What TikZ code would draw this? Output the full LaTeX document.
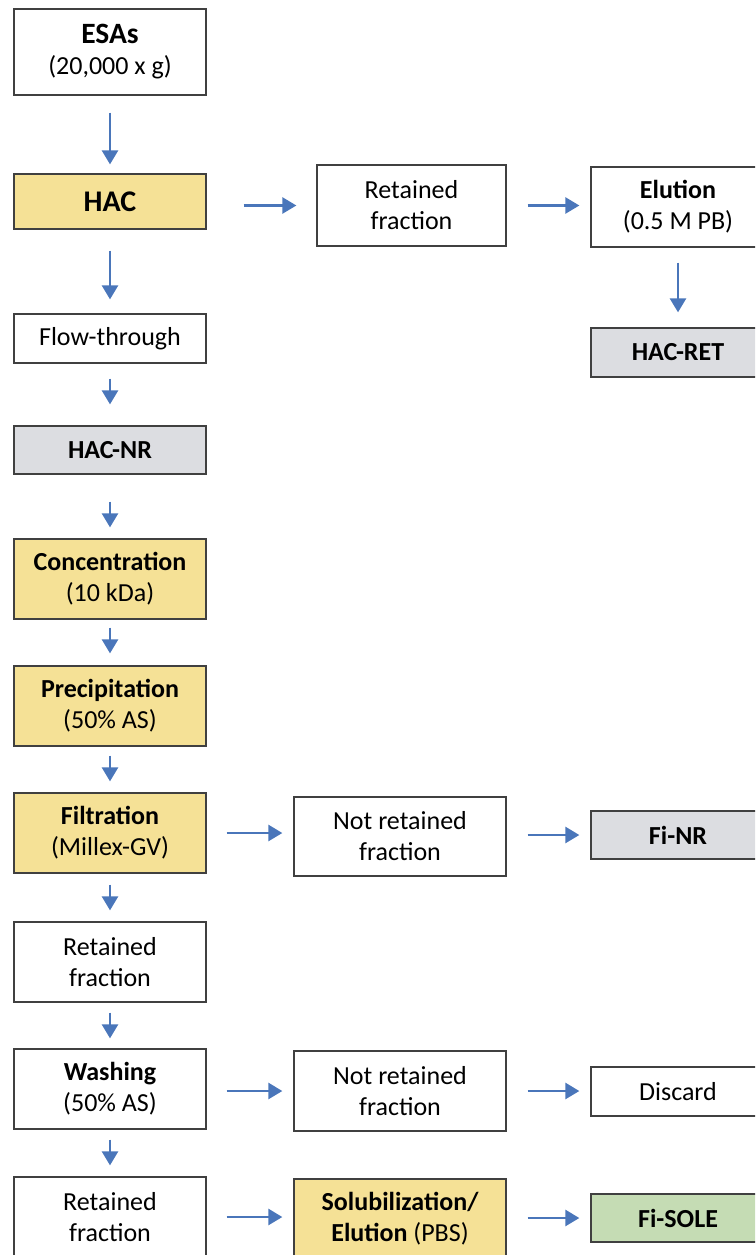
\documentclass[tikz,border=0pt]{standalone}
\usepackage{fontspec}
\setmainfont{Carlito}
\usetikzlibrary{arrows.meta}
\definecolor{boxline}{HTML}{404040}
\definecolor{yel}{HTML}{F5E196}
\definecolor{gry}{HTML}{DCDDE1}
\definecolor{grn}{HTML}{C5DCB4}
\definecolor{arrblue}{HTML}{4A76BA}
\tikzset{
  box/.style={draw=boxline, line width=1.3pt, fill=white, align=center, inner sep=0pt,
    font=\fontsize{26}{31}\selectfont},
  yellowbox/.style={box, fill=yel},
  graybox/.style={box, fill=gry},
  greenbox/.style={box, fill=grn},
  arr/.style={draw=arrblue, line width=2.6pt, -{Triangle[length=14pt,width=16pt]}}
}
\begin{document}
\begin{tikzpicture}[x=1pt,y=-1pt]
\useasboundingbox (0,0) rectangle (755,1255);
\clip (0,0) rectangle (755,1255);
% left column
\node[box, minimum width=192pt, minimum height=86pt] (esas) at (110,52)
  {\fontsize{29.5}{33}\selectfont\bfseries ESAs\\\fontsize{26}{31}\selectfont\mdseries(20,000 x g)};
\node[yellowbox, minimum width=192pt, minimum height=55pt] (hac) at (110,201.5)
  {\fontsize{30}{34}\selectfont\bfseries HAC};
\node[box, minimum width=192pt, minimum height=49pt] (flow) at (110,338.5) {Flow-through};
\node[graybox, minimum width=192pt, minimum height=48pt] (hacnr) at (110,450) {\bfseries HAC-NR};
\node[yellowbox, minimum width=192pt, minimum height=80pt] (conc) at (110,579)
  {\bfseries Concentration\\(10 kDa)};
\node[yellowbox, minimum width=192pt, minimum height=80pt] (prec) at (110,706)
  {\bfseries Precipitation\\(50\% AS)};
\node[yellowbox, minimum width=192pt, minimum height=80pt] (filt) at (110,833)
  {\bfseries Filtration\\(Millex-GV)};
\node[box, minimum width=192pt, minimum height=80pt] (ret2) at (110,962)
  {Retained\\fraction};
\node[box, minimum width=192pt, minimum height=80pt] (wash) at (110,1089)
  {\bfseries Washing\\(50\% AS)};
\node[box, minimum width=192pt, minimum height=80pt] (ret3) at (110,1217)
  {Retained\\fraction};
% middle column
\node[box, minimum width=189pt, minimum height=81pt] (ret1) at (411.5,205.5)
  {Retained\\fraction};
\node[box, minimum width=212pt, minimum height=79pt] (nr1) at (400,836.5)
  {Not retained\\fraction};
\node[box, minimum width=212pt, minimum height=80pt] (nr2) at (400,1091)
  {Not retained\\fraction};
\node[yellowbox, minimum width=212pt, minimum height=80pt] (sol) at (400,1219)
  {\bfseries Solubilization/\\\textbf{Elution} (PBS)};
% right column
\node[box, minimum width=174pt, minimum height=80pt] (elu) at (678,207)
  {\bfseries Elution\\(0.5 M PB)};
\node[graybox, minimum width=174pt, minimum height=49pt] (hacret) at (678,352.5) {\bfseries HAC-RET};
\node[graybox, minimum width=174pt, minimum height=48pt] (finr) at (678,835) {\bfseries Fi-NR};
\node[box, minimum width=174pt, minimum height=49pt] (disc) at (678,1091.5) {Discard};
\node[greenbox, minimum width=174pt, minimum height=48pt] (fisole) at (678,1218) {\bfseries Fi-SOLE};
% vertical arrows
\draw[arr, shorten <=17pt, shorten >=9pt] (esas.south) -- (hac.north);
\draw[arr, shorten <=21pt, shorten >=14pt] (hac.south) -- (flow.north);
\draw[arr, shorten <=15pt, shorten >=21pt] (flow.south) -- (hacnr.north);
\draw[arr, shorten <=27pt, shorten >=11pt] (hacnr.south) -- (conc.north);
\draw[arr, shorten <=8pt, shorten >=12pt] (conc.south) -- (prec.north);
\draw[arr, shorten <=9pt, shorten >=11pt] (prec.south) -- (filt.north);
\draw[arr, shorten <=11pt, shorten >=11pt] (filt.south) -- (ret2.north);
\draw[arr, shorten <=10pt, shorten >=10pt] (ret2.south) -- (wash.north);
\draw[arr, shorten <=10pt, shorten >=11pt] (wash.south) -- (ret3.north);
\draw[arr, shorten <=15pt, shorten >=15pt] (elu.south) -- (hacret.north);
% horizontal arrows
\draw[arr, shorten <=37pt, shorten >=20pt] (hac.east |- ret1.west) -- (ret1.west);
\draw[arr, shorten <=21pt, shorten >=11pt] (ret1.east) -- (ret1.east -| elu.west);
\draw[arr, shorten <=20pt, shorten >=11pt] (filt.east) -- (filt.east -| nr1.west);
\draw[arr, shorten <=21pt, shorten >=11pt] (finr.west -| nr1.east) -- (finr.west);
\draw[arr, shorten <=20pt, shorten >=11pt] (nr2.west -| wash.east) -- (nr2.west);
\draw[arr, shorten <=21pt, shorten >=11pt] (nr2.east) -- (nr2.east -| disc.west);
\draw[arr, shorten <=20pt, shorten >=11pt] (ret3.east) -- (ret3.east -| sol.west);
\draw[arr, shorten <=21pt, shorten >=11pt] (sol.east |- fisole.west) -- (fisole.west);
\end{tikzpicture}
\end{document}
